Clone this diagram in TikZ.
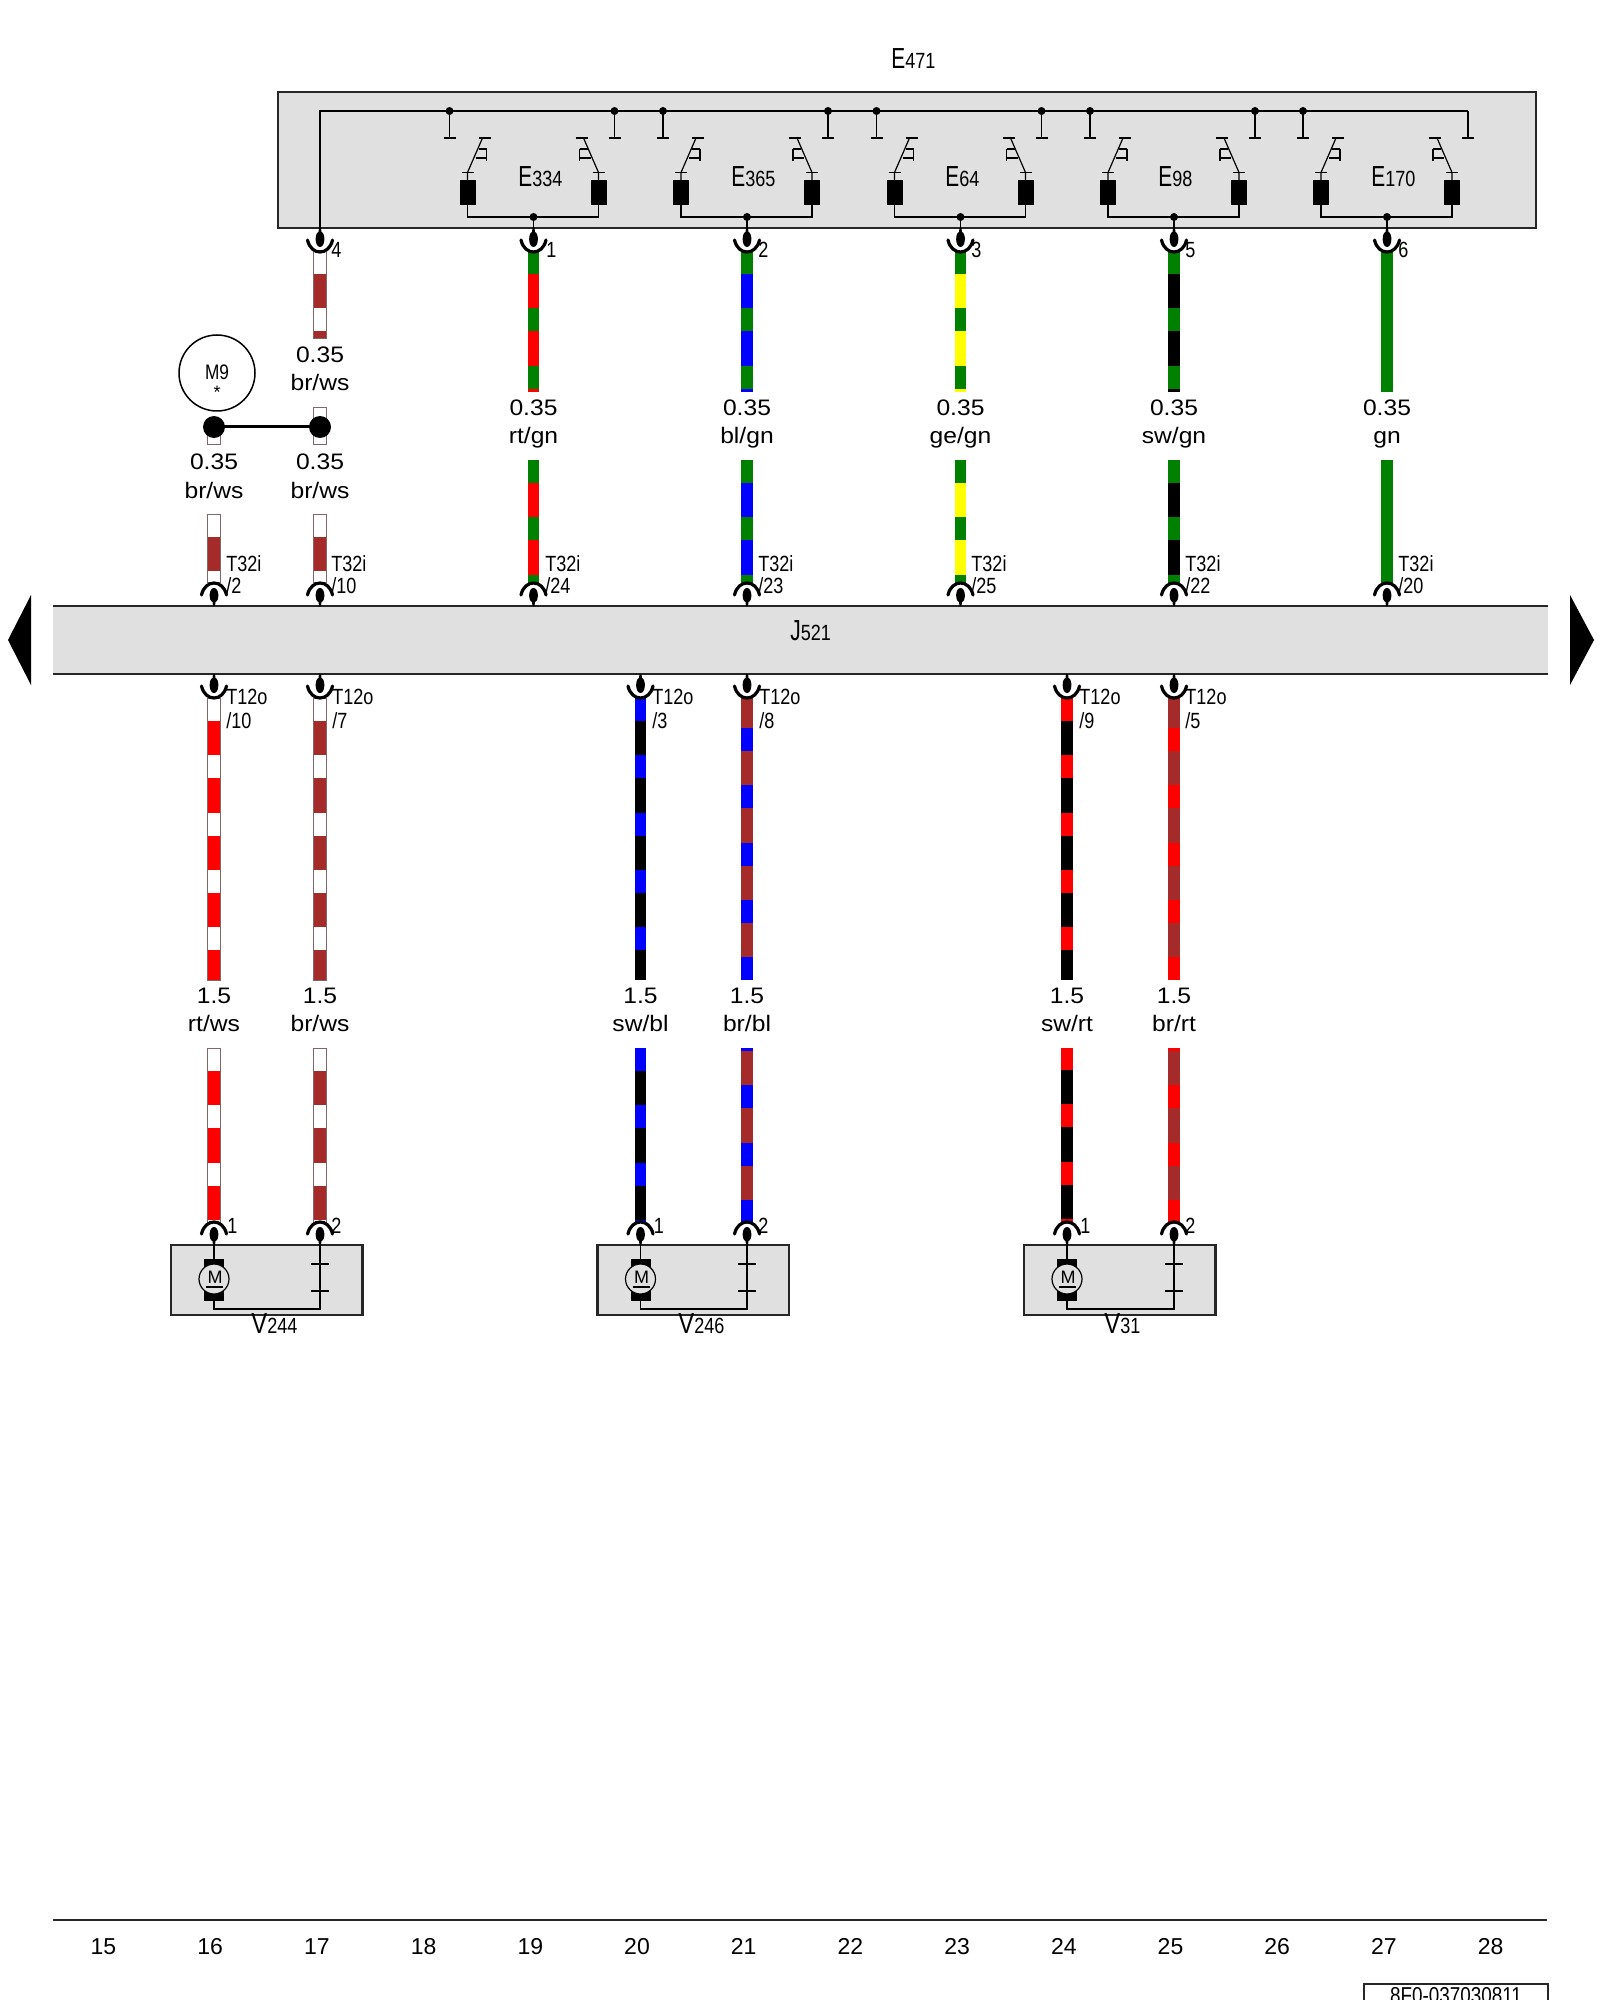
\documentclass[tikz,border=0pt]{standalone}
\usepackage{fontspec}
\setmainfont{Liberation Sans}
\newfontfamily\wideface[FakeStretch=1.1]{Liberation Sans}
\newfontfamily\narrowface[FakeStretch=0.82]{Liberation Sans}
\newfontfamily\capface[FakeStretch=0.72]{Liberation Sans}
\definecolor{panel}{HTML}{E0E0E0}
\definecolor{wgreen}{HTML}{008000}
\definecolor{wbrown}{HTML}{A52A2A}
\definecolor{wred}{HTML}{FF0000}
\definecolor{wblue}{HTML}{0000FF}
\definecolor{wyellow}{HTML}{FFFF00}
\definecolor{wedge}{HTML}{806868}
\tikzset{
  thin wire/.style={line width=0.6pt,black},
  panel box/.style={draw=black!85,line width=1.1pt,fill=panel},
  gauge/.style={font=\wideface\fontsize{11.2}{12}\selectfont,inner sep=0pt,anchor=base},
  pinlab/.style={font=\narrowface\fontsize{11}{12}\selectfont,inner sep=0pt,anchor=base west},
  axislab/.style={font=\fontsize{11.5}{13}\selectfont,inner sep=0pt,anchor=base},
  complab/.style={inner sep=0pt,anchor=base west},
  cup/.style={line width=1.6pt,black,line cap=round},
}
% compound component label
\newcommand\cmplab[5]{\node[complab] (#1) at (#2,#3) {\capface\fontsize{14.5}{16}\selectfont #4\narrowface\fontsize{11}{12}\selectfont #5};}
% wire segment: x, y from, y to, colour A, colour B, start of a B band
\newcommand\wireseg[6]{%
  \begin{scope}
    \clip ({#1-5.8},#2) rectangle ({#1+5.8},#3);
    \fill[#4] ({#1-5.8},#2) rectangle ({#1+5.8},#3);
    \foreach \k in {-1,0,...,4}{
      \fill[#5] ({#1-5.8},{#6+57.3*\k}) rectangle ({#1+5.8},{#6+57.3*\k+23});
    }
  \end{scope}}
% same, white carrier with thin edge
\newcommand\wsegw[5]{%
  \begin{scope}
    \clip ({#1-6.6},#2) rectangle ({#1+6.6},#3);
    \fill[white] ({#1-6.4},#2) rectangle ({#1+6.4},#3);
    \foreach \k in {-1,0,...,4}{
      \fill[#4] ({#1-6.4},{#5+57.3*\k}) rectangle ({#1+6.4},{#5+57.3*\k+34.3});
    }
  \end{scope}
  \draw[wedge,line width=0.5pt] ({#1-6.2},#3) -- ({#1-6.2},#2) -- ({#1+6.2},#2) -- ({#1+6.2},#3) -- cycle;}
% connector below an edge (cup opening upward)
\newcommand\pindown[3]{%
  \coordinate (#1) at (#2,#3);
  \fill[black] ({#2-1},#3) -- ({#2+1},#3) -- ({#2+1.5},{#3+4}) .. controls ({#2+5.5},{#3+5}) and ({#2+5.5},{#3+19}) .. (#2,{#3+19}) .. controls ({#2-5.5},{#3+19}) and ({#2-5.5},{#3+5}) .. ({#2-1.5},{#3+4}) -- cycle;
  \draw[cup] ({#2-12.5},{#3+12}) .. controls ({#2-9},{#3+28}) and ({#2+9},{#3+28}) .. ({#2+12.5},{#3+12});}
% connector above an edge (arc opening downward)
\newcommand\pinup[3]{%
  \coordinate (#1) at (#2,#3);
  \fill[black] ({#2-1},#3) -- ({#2+1},#3) -- ({#2+1.5},{#3-4}) .. controls ({#2+5.5},{#3-5}) and ({#2+5.5},{#3-18}) .. (#2,{#3-18}) .. controls ({#2-5.5},{#3-18}) and ({#2-5.5},{#3-5}) .. ({#2-1.5},{#3-4}) -- cycle;
  \draw[cup] ({#2-12.5},{#3-11}) .. controls ({#2-9},{#3-27}) and ({#2+9},{#3-27}) .. ({#2+12.5},{#3-11});}
% switch module, centre x
\newcommand\switchmod[3]{%
  \begin{scope}[shift={(#1,0)}]
    \coordinate (#2-dotl) at (-83,111);
    \coordinate (#2-stubl) at (-83,138);
    \draw[thin wire] (#2-dotl) -- (#2-stubl);
    \draw[thin wire] (-89,138) -- (-77,138);
    \coordinate (#2-stubr) at (82,138);
    \ifnum#3=1
      \coordinate (#2-dotr) at (82,111);
      \fill (#2-dotr) circle[radius=4];
    \else
      \coordinate (#2-dotr) at (82,111);
    \fi
    \draw[thin wire] (#2-dotr) -- (#2-stubr);
    \draw[thin wire] (76,138) -- (88,138);
    \fill (#2-dotl) circle[radius=4];
    % blocks
    \fill (-73,180) rectangle (-57,205);
    \fill (58,180) rectangle (74,205);
    % left switch
    \draw[thin wire] (-65,180) -- (-65,172.5) -- (-50,138);
    \draw[thin wire] (-71,172.5) -- (-59,172.5);
    \draw[thin wire] (-54,138) -- (-42,138);
    \draw[thin wire] (-54,149) -- (-46,149) (-57,158) -- (-46,158) (-46,149) -- (-46,161);
    % right switch
    \draw[thin wire] (66,180) -- (66,172.5) -- (51,138);
    \draw[thin wire] (60,172.5) -- (72,172.5);
    \draw[thin wire] (43,138) -- (55,138);
    \draw[thin wire] (47,149) -- (55,149) (47,158) -- (58,158) (47,149) -- (47,161);
    % common
    \coordinate (#2-com) at (1,217);
    \draw[thin wire] (-65,205) -- (-65,217) -- (66,217) -- (66,205);
    \fill (#2-com) circle[radius=4];
    \draw[thin wire] (#2-com) -- (1,230);
  \end{scope}}
% motor module: name, wire x left, wire x right
\newcommand\motormod[3]{%
  \coordinate (#1-a) at (#2,1245);
  \coordinate (#1-b) at (#3,1245);
  \draw[panel box] ({#2-43},1245) rectangle ({#2+148.5},1315);
  \fill (#2-10,1259) rectangle (#2+10,1301);
  \draw[thin wire] (#1-a) -- (#2,1259);
  \draw[thin wire] (#2,1301) -- (#2,1309) -- (#3,1309) -- (#1-b);
  \node[circle,draw=black,line width=0.6pt,fill=panel,minimum size=15pt,inner sep=0pt] (#1-m) at (#2,1279) {};
  \node[inner sep=0pt,font=\fontsize{9}{9}\selectfont] (#1-mt) at (#2+1,1277) {M};
  \draw[thin wire] (#2-8,1287) -- (#2+9,1287);
  \draw[thin wire] (#3-9,1264) -- (#3+9,1264) (#3-9,1291) -- (#3+9,1291);
  \pinup{#1-pa}{#2}{1245}
  \pinup{#1-pb}{#3}{1245}
  \node[pinlab] (#1-n1) at (#2+13,1233) {1};
  \node[pinlab] (#1-n2) at (#3+11,1233) {2};}
\newcommand\twolab[5]{%
  \node[gauge] (#1-g) at (#2,#3+8) {#4};
  \node[gauge] (#1-c) at (#2,#3+36) {#5};}
\begin{document}
\begin{tikzpicture}[x=0.5pt,y=-0.5pt]
\useasboundingbox (0,0) rectangle (1600,2000);
\fill[white] (0,0) rectangle (1600,2000);

% ---------- E471 panel
\node[complab] (e471) at (891,69) {\capface\fontsize{14.5}{16}\selectfont E\narrowface\fontsize{11}{12}\selectfont 471};
\draw[panel box] (278,92) rectangle (1536,228);
\coordinate (busL) at (320,111);
\coordinate (busR) at (1468,111);
\coordinate (busD) at (320,230);
\draw[thin wire] (busD) -- (busL) -- (busR);
\switchmod{532.5}{s1}{1}
\switchmod{746}{s2}{1}
\switchmod{959.5}{s3}{1}
\switchmod{1173}{s4}{1}
\switchmod{1386}{s5}{0}
\cmplab{l334}{518}{187}{E}{334}
\cmplab{l365}{731}{187}{E}{365}
\cmplab{l64}{945}{187}{E}{64}
\cmplab{l98}{1158}{187}{E}{98}
\cmplab{l170}{1371}{187}{E}{170}

% ---------- upper wires, first run
\wsegw{320}{251}{339}{wbrown}{274}
\wireseg{533.5}{251}{392}{wred}{wgreen}{251}
\wireseg{747}{251}{392}{wblue}{wgreen}{251}
\wireseg{960.5}{251}{392}{wyellow}{wgreen}{251}
\wireseg{1174}{251}{392}{black}{wgreen}{251}
\wireseg{1387}{251}{392}{wgreen}{wgreen}{251}
\pindown{c4}{320}{228}
\pindown{c1}{533.5}{228}
\pindown{c2}{747}{228}
\pindown{c3}{960.5}{228}
\pindown{c5}{1174}{228}
\pindown{c6}{1387}{228}
\node[pinlab] (n4) at (331,258) {4};
\node[pinlab] (n1) at (546,258) {1};
\node[pinlab] (n2) at (758,258) {2};
\node[pinlab] (n3) at (971,258) {3};
\node[pinlab] (n5) at (1185,258) {5};
\node[pinlab] (n6) at (1398,258) {6};

\twolab{a0}{320}{355}{0.35}{br/ws}
\twolab{a1}{533.5}{408}{0.35}{rt/gn}
\twolab{a2}{747}{408}{0.35}{bl/gn}
\twolab{a3}{960.5}{408}{0.35}{ge/gn}
\twolab{a4}{1174}{408}{0.35}{sw/gn}
\twolab{a5}{1387}{408}{0.35}{gn}

% ---------- M9 and its splice
\wsegw{320}{408}{445}{white}{0}
\wsegw{214}{427}{445}{white}{0}
\node[circle,draw=black,line width=0.75pt,minimum size=38pt,inner sep=0pt] (m9) at (217,373) {};
\node[font=\narrowface\fontsize{10.5}{11}\selectfont,inner sep=0pt] (m9t) at (217,372) {M9};
\node[font=\fontsize{9}{10}\selectfont,inner sep=0pt] (m9s) at (217,392) {*};
\coordinate (spl) at (214,427);
\coordinate (spr) at (320,427);
\draw[line width=1.5pt] (spl) -- (spr);
\fill (spl) circle[radius=11];
\fill (spr) circle[radius=11];

\twolab{b0}{214}{462}{0.35}{br/ws}
\twolab{b1}{320}{462}{0.35}{br/ws}

% ---------- upper wires, second run
\wsegw{214}{514}{582}{wbrown}{537}
\wsegw{320}{514}{582}{wbrown}{537}
\wireseg{533.5}{460}{582}{wred}{wgreen}{460}
\wireseg{747}{460}{582}{wblue}{wgreen}{460}
\wireseg{960.5}{460}{582}{wyellow}{wgreen}{460}
\wireseg{1174}{460}{582}{black}{wgreen}{460}
\wireseg{1387}{460}{582}{wgreen}{wgreen}{460}

% ---------- J521 bar
\fill[panel] (53,606) rectangle (1548,674);
\coordinate (jtl) at (53,606); \coordinate (jtr) at (1548,606);
\coordinate (jbl) at (53,674); \coordinate (jbr) at (1548,674);
\draw[line width=1.1pt,black!85] (jtl) -- (jtr) (jbl) -- (jbr);
\node[complab] (j521) at (790,640) {\capface\fontsize{14.5}{16}\selectfont J\narrowface\fontsize{11}{12}\selectfont 521};
\fill (31,595) -- (8,640) -- (31,685) -- cycle;
\fill (1570,595) -- (1594,640) -- (1570,685) -- cycle;

\pinup{u1}{214}{606}
\pinup{u2}{320}{606}
\pinup{u3}{533.5}{606}
\pinup{u4}{747}{606}
\pinup{u5}{960.5}{606}
\pinup{u6}{1174}{606}
\pinup{u7}{1387}{606}
\foreach \xx/\pp/\nm in {226/2/a,331/10/b,545/24/c,758/23/d,971/25/e,1185/22/f,1398/20/g}{
  \node[pinlab] (tt\nm) at (\xx,571) {T32i};
  \node[pinlab] (tp\nm) at (\xx,593) {/\pp};
}

% ---------- lower wires
\wsegw{214}{698}{980}{wred}{721}
\wsegw{320}{698}{980}{wbrown}{721}
\wireseg{640.5}{698}{980}{black}{wblue}{698}
\wireseg{747}{698}{980}{wbrown}{wblue}{728}
\wireseg{1067}{698}{980}{black}{wred}{698}
\wireseg{1174}{698}{980}{wbrown}{wred}{728}
\pindown{d1}{214}{674}
\pindown{d2}{320}{674}
\pindown{d3}{640.5}{674}
\pindown{d4}{747}{674}
\pindown{d5}{1067}{674}
\pindown{d6}{1174}{674}
\foreach \xx/\pp/\nm in {226/10/a,332/7/b,652/3/c,759/8/d,1079/9/e,1185/5/f}{
  \node[pinlab] (ot\nm) at (\xx,704) {T12o};
  \node[pinlab] (op\nm) at (\xx,728) {/\pp};
}
\twolab{k1}{214}{995}{1.5}{rt/ws}
\twolab{k2}{320}{995}{1.5}{br/ws}
\twolab{k3}{640.5}{995}{1.5}{sw/bl}
\twolab{k4}{747}{995}{1.5}{br/bl}
\twolab{k5}{1067}{995}{1.5}{sw/rt}
\twolab{k6}{1174}{995}{1.5}{br/rt}

\wsegw{214}{1048}{1222}{wred}{1071}
\wsegw{320}{1048}{1222}{wbrown}{1071}
\wireseg{640.5}{1048}{1222}{black}{wblue}{1048}
\wireseg{747}{1048}{1222}{wbrown}{wblue}{1028}
\wireseg{1067}{1048}{1222}{black}{wred}{1047}
\wireseg{1174}{1048}{1222}{wbrown}{wred}{1028}

% ---------- motors
\motormod{v1}{214}{320}
\motormod{v2}{640.5}{747}
\motormod{v3}{1067}{1174}
\node[complab] (v244) at (251,1333) {\narrowface\fontsize{14.5}{16}\selectfont V\narrowface\fontsize{11}{12}\selectfont 244};
\node[complab] (v246) at (678,1333) {\narrowface\fontsize{14.5}{16}\selectfont V\narrowface\fontsize{11}{12}\selectfont 246};
\node[complab] (v31) at (1104,1333) {\narrowface\fontsize{14.5}{16}\selectfont V\narrowface\fontsize{11}{12}\selectfont 31};

% ---------- footer
\coordinate (fl) at (53,1920); \coordinate (fr) at (1547,1920);
\draw[line width=1.1pt,black!85] (fl) -- (fr);
\foreach \i in {0,...,13}{
  \pgfmathtruncatemacro\num{15+\i}
  \node[axislab] (ax\num) at ({103.5+106.7*\i},1954) {\num};
}
\draw[line width=1.1pt,black!85] (1364,2010) -- (1364,1984) -- (1548,1984) -- (1548,2010);
\node[inner sep=0pt,anchor=base,font=\narrowface\fontsize{11.5}{13}\selectfont] (code) at (1456,2003) {8F0-037030811};
\end{tikzpicture}
\end{document}
